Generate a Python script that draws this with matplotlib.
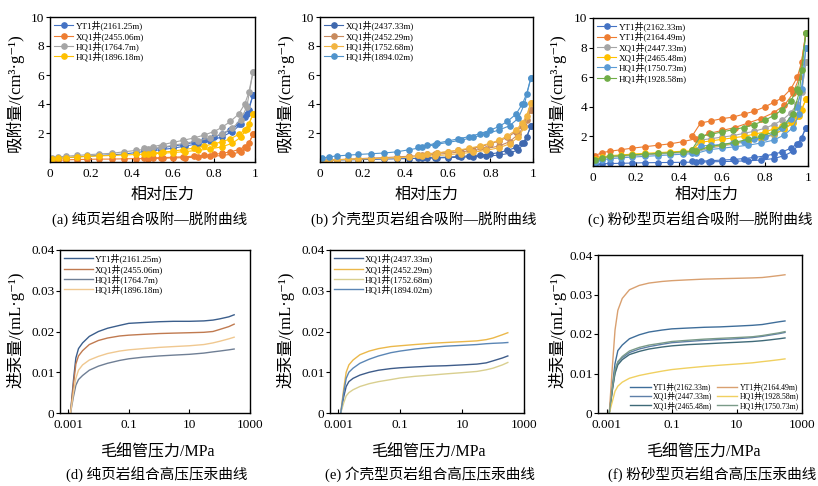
import matplotlib
matplotlib.use('Agg')
import matplotlib.pyplot as plt
from matplotlib.ticker import FixedLocator, NullLocator

plt.rcParams['font.family'] = ['Liberation Serif', 'Noto Sans CJK SC', 'DejaVu Sans']
MIX = ['Liberation Serif', 'Noto Sans CJK SC', 'DejaVu Sans']
CJK = ['Noto Sans CJK SC', 'DejaVu Sans']

# ---------------- 吸附-脱附 数据 ----------------
p_ads = [0.01, 0.04, 0.08, 0.13, 0.18, 0.24, 0.30, 0.36, 0.42, 0.48,
         0.54, 0.60, 0.66, 0.72, 0.78, 0.84, 0.89, 0.93, 0.96, 0.99]
p_des = [0.99, 0.97, 0.95, 0.92, 0.88, 0.84, 0.80, 0.75, 0.70, 0.65,
         0.60, 0.55, 0.50, 0.46]

# (a) 纯页岩
a_labels = ['YT1井(2161.25m)', 'XQ1井(2455.06m)', 'HQ1井(1764.7m)', 'HQ1井(1896.18m)']
a_colors = ['#4472C4', '#ED7D31', '#A5A5A5', '#FFC000']
a_ads = [
    [.2, .25, .3, .35, .4, .45, .5, .55, .65, .75, .85, .95, 1.1, 1.25, 1.45, 1.75, 2.1, 2.6, 3.3, 4.6],
    [.1, .12, .15, .17, .18, .2, .2, .22, .23, .24, .26, .28, .3, .33, .38, .45, .55, .7, .95, 1.9],
    [.3, .35, .4, .45, .5, .55, .6, .7, .8, .9, 1.0, 1.15, 1.3, 1.45, 1.65, 1.95, 2.35, 2.9, 3.8, 6.2],
    [.2, .25, .3, .35, .38, .42, .45, .48, .52, .55, .6, .65, .72, .8, .9, 1.05, 1.3, 1.7, 2.3, 3.3],
]
a_des = [
    [4.6, 3.6, 3.1, 2.6, 2.2, 1.95, 1.7, 1.5, 1.35, 1.2, 1.1, 1.0, .9, .8],
    [1.9, 1.3, 1.05, .85, .7, .6, .52, .45, .4, .36, .33, .3, .28, .26],
    [6.2, 4.8, 4.0, 3.3, 2.8, 2.4, 2.1, 1.85, 1.65, 1.5, 1.35, 1.2, 1.05, .95],
    [3.3, 2.6, 2.2, 1.9, 1.6, 1.4, 1.25, 1.1, .95, .85, .75, .68, .6, .55],
]

# (b) 介壳型页岩
b_labels = ['XQ1井(2437.33m)', 'XQ1井(2452.29m)', 'HQ1井(1752.68m)', 'HQ1井(1894.02m)']
b_colors = ['#3F68AE', '#C88A5C', '#F2B441', '#4F93CC']
b_ads = [
    [.1, .12, .14, .15, .16, .18, .2, .22, .24, .26, .28, .3, .33, .36, .4, .48, .6, .85, 1.3, 2.5],
    [.1, .13, .16, .2, .23, .27, .3, .35, .4, .45, .52, .6, .7, .8, .92, 1.1, 1.4, 1.9, 2.5, 3.6],
    [.1, .12, .15, .18, .2, .23, .26, .3, .34, .38, .43, .5, .58, .68, .8, .98, 1.25, 1.7, 2.4, 4.1],
    [.25, .35, .42, .47, .52, .57, .62, .7, .85, 1.0, 1.2, 1.35, 1.5, 1.7, 1.95, 2.2, 2.5, 3.0, 4.0, 5.8],
]
b_des = [
    [2.5, 1.7, 1.3, 1.0, .8, .65, .55, .48, .42, .38, .34, .31, .28, .26],
    [3.6, 2.9, 2.5, 2.1, 1.7, 1.45, 1.25, 1.05, .9, .8, .7, .62, .55, .5],
    [4.1, 3.2, 2.7, 2.2, 1.8, 1.5, 1.3, 1.1, .95, .82, .72, .63, .56, .5],
    [5.8, 4.7, 4.0, 3.3, 2.8, 2.45, 2.2, 1.95, 1.75, 1.6, 1.45, 1.3, 1.15, 1.05],
]

# (c) 粉砂型页岩
c_labels = ['YT1井(2162.33m)', 'YT1井(2164.49m)', 'XQ1井(2447.33m)',
            'XQ1井(2465.48m)', 'HQ1井(1750.73m)', 'HQ1井(1928.58m)']
c_colors = ['#4472C4', '#ED7D31', '#A5A5A5', '#FFC000', '#5B9BD5', '#70AD47']
c_ads = [
    [.1, .15, .17, .18, .2, .22, .23, .24, .25, .26, .28, .3, .32, .35, .4, .5, .7, 1.0, 1.5, 2.6],
    [.7, .9, 1.0, 1.1, 1.2, 1.3, 1.4, 1.5, 1.65, 1.85, 2.2, 2.4, 2.6, 2.9, 3.2, 3.6, 4.1, 4.9, 6.0, 9.0],
    [.35, .5, .6, .65, .7, .75, .8, .85, .9, .95, 1.2, 1.35, 1.5, 1.65, 1.85, 2.1, 2.5, 3.0, 3.9, 7.0],
    [.45, .6, .7, .75, .8, .85, .9, .95, 1.0, 1.05, 1.3, 1.4, 1.55, 1.7, 1.9, 2.15, 2.5, 2.9, 3.4, 4.5],
    [.3, .4, .5, .55, .6, .65, .7, .75, .8, .85, 1.1, 1.2, 1.3, 1.4, 1.55, 1.75, 2.1, 2.6, 3.5, 8.0],
    [.4, .55, .65, .7, .75, .8, .85, .9, .95, 1.0, 1.3, 1.45, 1.6, 1.8, 2.0, 2.3, 2.8, 3.5, 5.0, 9.0],
]
c_des = [
    [2.6, 1.9, 1.5, 1.2, .95, .8, .68, .58, .5, .44, .4, .36, .33, .31],
    [9.0, 7.0, 6.0, 5.2, 4.6, 4.3, 4.0, 3.7, 3.5, 3.3, 3.2, 3.05, 2.9, 2.0],
    [7.0, 5.0, 4.2, 3.6, 3.1, 2.8, 2.55, 2.35, 2.2, 2.05, 1.95, 1.85, 1.75, 1.0],
    [4.5, 3.8, 3.4, 3.0, 2.7, 2.5, 2.3, 2.15, 2.0, 1.9, 1.8, 1.7, 1.6, 1.1],
    [8.0, 5.2, 4.0, 3.2, 2.6, 2.2, 1.95, 1.8, 1.65, 1.55, 1.45, 1.4, 1.35, .9],
    [9.0, 6.5, 5.2, 4.4, 3.8, 3.4, 3.1, 2.8, 2.6, 2.45, 2.3, 2.15, 2.0, 1.1],
]

# ---------------- 高压压汞 数据 ----------------
hg_p = [0.0012, 0.0015, 0.0018, 0.0022, 0.003, 0.005, 0.01, 0.02, 0.05, 0.1,
        0.3, 1, 3, 10, 30, 60, 100, 200, 300]

d_labels = ['YT1井(2161.25m)', 'XQ1井(2455.06m)', 'HQ1井(1764.7m)', 'HQ1井(1896.18m)']
d_colors = ['#3B5E8C', '#C07A50', '#6F7F95', '#F0C890']
d_vals = [
    [0, .008, .0135, .0158, .0172, .0188, .0200, .0208, .0215, .0220, .0222, .0224, .0225, .0225, .0226, .0228, .0231, .0236, .0241],
    [0, .007, .012, .0140, .0153, .0168, .0178, .0184, .0189, .0191, .0193, .0195, .0196, .0197, .0198, .0200, .0205, .0212, .0218],
    [0, .004, .0068, .0082, .0092, .0105, .0115, .0122, .0129, .0133, .0137, .0140, .0142, .0144, .0147, .0150, .0152, .0155, .0157],
    [0, .005, .0085, .0105, .0118, .0130, .0139, .0146, .0152, .0155, .0158, .0161, .0163, .0165, .0168, .0172, .0176, .0182, .0186],
]

e_labels = ['XQ1井(2437.33m)', 'XQ1井(2452.29m)', 'HQ1井(1752.68m)', 'HQ1井(1894.02m)']
e_colors = ['#3E5C8A', '#EBB84A', '#D9CF8F', '#5B86B5']
e_vals = [
    [0, .004, .0065, .0077, .0085, .0093, .0100, .0105, .0109, .0111, .0113, .0115, .0116, .0118, .0120, .0123, .0128, .0135, .0140],
    [0, .006, .0100, .0118, .0130, .0143, .0152, .0158, .0163, .0165, .0168, .0171, .0173, .0175, .0177, .0180, .0184, .0192, .0197],
    [0, .0025, .0042, .0050, .0057, .0065, .0072, .0077, .0082, .0086, .0090, .0093, .0096, .0099, .0102, .0106, .0110, .0118, .0124],
    [0, .005, .0085, .0100, .0110, .0122, .0132, .0140, .0148, .0152, .0157, .0161, .0164, .0166, .0168, .0170, .0171, .0172, .0173],
]

f_labels = ['YT1井(2162.33m)', 'XQ1井(2447.33m)', 'XQ1井(2465.48m)',
            'YT1井(2164.49m)', 'HQ1井(1928.58m)', 'HQ1井(1750.73m)']
f_colors = ['#3F6E9A', '#5E7FA8', '#3F6A78', '#D9A070', '#F0D060', '#7A9A88']
f_vals = [
    [0, .007, .0125, .0158, .0172, .0188, .0198, .0205, .0210, .0213, .0215, .0217, .0218, .0220, .0222, .0224, .0227, .0231, .0233],
    [0, .006, .0105, .0128, .0140, .0153, .0162, .0168, .0174, .0178, .0181, .0184, .0186, .0188, .0191, .0194, .0197, .0201, .0204],
    [0, .006, .0100, .0122, .0135, .0148, .0156, .0162, .0167, .0170, .0173, .0175, .0177, .0179, .0181, .0183, .0185, .0188, .0190],
    [0, .012, .021, .026, .029, .0312, .0323, .0329, .0333, .0335, .0337, .0339, .0340, .0341, .0342, .0343, .0345, .0348, .0350],
    [0, .003, .0055, .0068, .0078, .0088, .0095, .0100, .0106, .0110, .0114, .0118, .0121, .0124, .0127, .0130, .0132, .0135, .0137],
    [0, .0065, .011, .013, .0143, .0157, .0166, .0172, .0177, .0181, .0184, .0187, .0189, .0191, .0193, .0196, .0199, .0203, .0206],
]

W, H = 818, 486
fig = plt.figure(figsize=(W / 100, H / 100), dpi=100)


def box(x0, y0, x1, y1):
    # pixel box -> figure fraction
    return [x0 / W, 1 - y1 / H, (x1 - x0) / W, (y1 - y0) / H]


def style(ax):
    for s in ax.spines.values():
        s.set_linewidth(1.0)
    ax.tick_params(axis='x', direction='in', length=3, labelsize=9.5, pad=4)
    ax.tick_params(axis='y', direction='out', length=3, labelsize=9.5, pad=1)
    for t in ax.get_xticklabels() + ax.get_yticklabels():
        t.set_fontfamily('Liberation Serif')


def iso_panel(rect, labels, colors, ads, des):
    ax = fig.add_axes(rect)
    for lab, col, ya, yd in zip(labels, colors, ads, des):
        ax.plot(p_ads, ya, '-o', color=col, ms=3.8, lw=0.8, label=lab)
        ax.plot(p_des, yd, '-o', color=col, ms=3.8, lw=0.8)
    ax.set_xlim(0, 1)
    ax.set_ylim(0, 10)
    ax.set_xticks([0, 0.2, 0.4, 0.6, 0.8, 1])
    ax.set_xticklabels(['0', '0.2', '0.4', '0.6', '0.8', '1'])
    ax.set_yticks([2, 4, 6, 8, 10])
    style(ax)
    ax.legend(loc='upper left', frameon=False, prop={'family': MIX, 'size': 6.5},
              handlelength=2.2, labelspacing=0.05, borderpad=0.3, handletextpad=0.3,
              borderaxespad=0.1)
    return ax


def hg_panel(rect, labels, colors, vals, legend_kw, fsize=6.5):
    ax = fig.add_axes(rect)
    for lab, col, y in zip(labels, colors, vals):
        ax.plot(hg_p, y, '-', color=col, lw=1.0, label=lab)
    ax.set_xscale('log')
    ax.set_xlim(0.00054, 1000)
    ax.set_ylim(0, 0.04)
    ax.xaxis.set_major_locator(FixedLocator([0.001, 0.1, 10, 1000]))
    ax.xaxis.set_minor_locator(NullLocator())
    ax.set_xticklabels(['0.001', '0.1', '10', '1000'])
    ax.set_yticks([0, 0.01, 0.02, 0.03, 0.04])
    ax.set_yticklabels(['0', '0.01', '0.02', '0.03', '0.04'])
    style(ax)
    ax.legend(frameon=False, prop={'family': MIX, 'size': fsize},
              labelspacing=0.05, borderpad=0.3, handletextpad=0.3, **legend_kw)
    return ax


iso_panel(box(50, 17, 255, 162), a_labels, a_colors, a_ads, a_des)
iso_panel(box(320, 17, 533, 162), b_labels, b_colors, b_ads, b_des)
iso_panel(box(593, 18, 808, 166), c_labels, c_colors, c_ads, c_des)

hg_panel(box(60, 250, 250, 413), d_labels, d_colors, d_vals,
         dict(loc='upper left', handlelength=3.2, borderaxespad=0.1))
hg_panel(box(330, 250, 524, 413), e_labels, e_colors, e_vals,
         dict(loc='upper left', handlelength=3.2, borderaxespad=0.1))
hg_panel(box(598, 255, 802, 413), f_labels, f_colors, f_vals,
         dict(loc='lower right', ncol=2, handlelength=2.6, columnspacing=0.6,
              borderaxespad=0.1), fsize=5.6)


def ftext(x, y, s, **kw):
    fig.text(x / W, 1 - y / H, s, ha='center', va='center', **kw)


# 横坐标与纵坐标名称
for xc in [163, 427, 707]:
    ftext(xc, 194, '相对压力', family=CJK, fontsize=11.5)
for xc in [157, 428, 703]:
    ftext(xc, 452, '毛细管压力/MPa', family=MIX, fontsize=11.5)
for xc in [15, 285, 557]:
    ftext(xc, 93, '吸附量/(cm³·g⁻¹)', family=MIX, fontsize=12, rotation=90)
for xc in [15, 285, 557]:
    ftext(xc, 330, '进汞量/(mL·g⁻¹)', family=MIX, fontsize=12, rotation=90)

# 分图标题
ftext(150, 219, '(a) 纯页岩组合吸附—脱附曲线', family=MIX, fontsize=10.5)
ftext(424, 219, '(b) 介壳型页岩组合吸附—脱附曲线', family=MIX, fontsize=10.5)
ftext(700, 219, '(c) 粉砂型页岩组合吸附—脱附曲线', family=MIX, fontsize=10.5)
ftext(157, 474, '(d) 纯页岩组合高压压汞曲线', family=MIX, fontsize=10.5)
ftext(430, 474, '(e) 介壳型页岩组合高压压汞曲线', family=MIX, fontsize=10.5)
ftext(712, 474, '(f) 粉砂型页岩组合高压压汞曲线', family=MIX, fontsize=10.5)

fig.savefig('out.png', dpi=100)
